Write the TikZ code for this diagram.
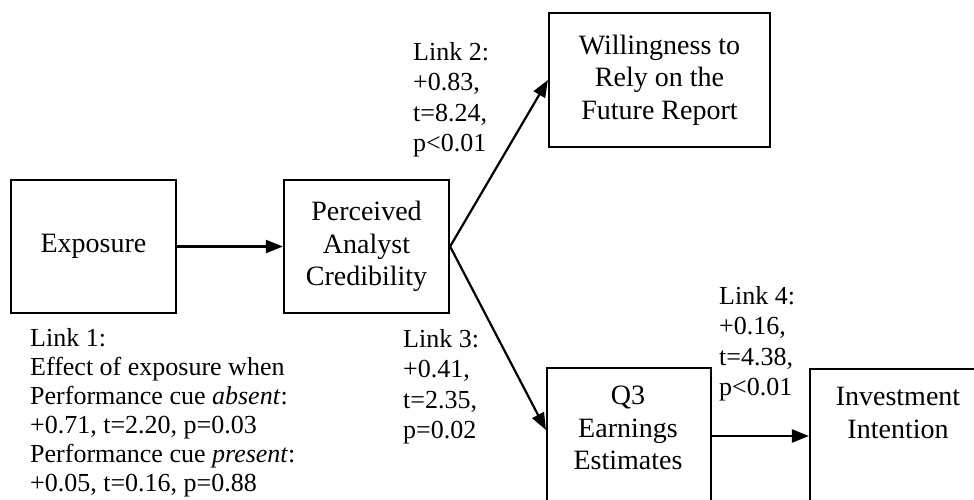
\documentclass[tikz,border=0pt]{standalone}
\usepackage{fontspec}
\setmainfont{Liberation Serif}
\usetikzlibrary{arrows.meta}
\begin{document}
\begin{tikzpicture}[x=1pt,y=-1pt,
  box/.style={draw,line width=2.2pt,inner sep=0pt},
  boxtext/.style={align=center,inner sep=0pt,font=\fontsize{28}{32.5}\selectfont},
  linktext/.style={align=left,inner sep=0pt,anchor=north west,font=\fontsize{26}{30.5}\selectfont},
  link/.style={line width=2.2pt,-{Triangle[length=17pt,width=13pt]}}]
\useasboundingbox (0,0) rectangle (974,500);
% boxes
\node[box,boxtext,minimum width=165pt,minimum height=133pt] (expo) at (93.5,246.5) {Exposure};
\node[box,boxtext,minimum width=165pt,minimum height=133pt] (cred) at (366.5,246.5)
  {Perceived\\Analyst\\Credibility};
\node[box,boxtext,minimum width=221pt,minimum height=134pt] (rely) at (659.5,80)
  {Willingness to\\Rely on the\\Future Report};
\node[box,minimum width=164pt,minimum height=200pt] (q3) at (629,468) {};
\node[boxtext] (q3text) at (628,428) {Q3\\Earnings\\Estimates};
\node[box,minimum width=180pt,minimum height=200pt] (inv) at (900,469) {};
\node[boxtext] (invtext) at (898,413) {Investment\\Intention};
% links
\draw[link] (expo.east) -- (cred.west);
\draw[link] (cred.east) -- (rely.west);
\draw[link] (cred.east) -- (q3.west |- 0,430);
\coordinate (q3out) at (q3.east |- 0,436);
\draw[link] (q3out) -- (inv.west |- q3out);
% link labels
\node[linktext,font=\fontsize{26}{29}\selectfont] (l1) at (30,328) {Link 1:\\Effect of exposure when\\Performance cue \textit{absent}:\\+0.71, t=2.20, p=0.03\\Performance cue \textit{present}:\\+0.05, t=0.16, p=0.88};
\node[linktext] (l2) at (413,42) {Link 2:\\+0.83,\\t=8.24,\\p<0.01};
\node[linktext] (l3) at (403,329) {Link 3:\\+0.41,\\t=2.35,\\p=0.02};
\node[linktext] (l4) at (719,286) {Link 4:\\+0.16,\\t=4.38,\\p<0.01};
\end{tikzpicture}
\end{document}
